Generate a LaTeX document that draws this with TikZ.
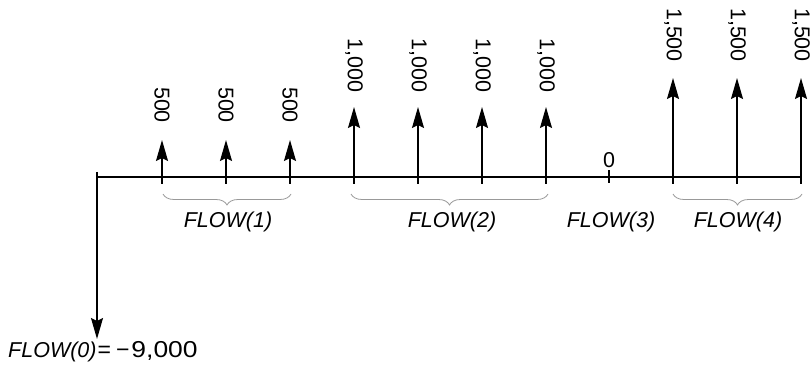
\documentclass[tikz,border=0pt]{standalone}
\usepackage{graphicx}
\usepackage{fontspec}
\setmainfont{Liberation Sans}
\usetikzlibrary{arrows.meta,decorations.pathreplacing}
\begin{document}
\begin{tikzpicture}[x=1pt,y=1pt,
  lbl/.style={font=\fontsize{21.5}{25}\selectfont, inner sep=0pt},
  vlbl/.style={lbl, rotate=-90},
  flowlbl/.style={lbl, font=\fontsize{21.5}{25}\selectfont\itshape},
  flowarrow/.style={line width=1.6pt, -{Stealth[length=21pt,width=12pt,inset=3pt]}},
  axisline/.style={line width=1.6pt},
  bracestyle/.style={draw=black!40, line width=0.8pt, decorate,
    decoration={brace, mirror, amplitude=11pt}}
]
\useasboundingbox (0,0) rectangle (811,375);

% axis
\coordinate (a0) at (97,198);
\coordinate (aend) at (801,198);
\draw[axisline] (a0) -- (aend);

% initial outflow
\coordinate (d0) at (97,203);
\coordinate (d1) at (97,36);
\draw[flowarrow] (d0) -- (d1);
\node[lbl, anchor=west] (f0) at (8,23)
  {\textit{FLOW(0)}\hspace{1pt}{\fontsize{23}{27}\selectfont =\hspace{5pt}−\hspace{2pt}\scalebox{1.15}[1]{9,000}}};

% 500 arrows
\foreach \i/\x in {1/162,2/226,3/290}{
  \coordinate (b\i) at (\x,191);
  \coordinate (t\i) at (\x,235);
  \draw[flowarrow] (b\i) -- (t\i);
  \node[vlbl] (l\i) at (\x,270) {500};
}
% 1,000 arrows
\foreach \i/\x in {4/354,5/418,6/482,7/546}{
  \coordinate (b\i) at (\x,191);
  \coordinate (t\i) at (\x,268);
  \draw[flowarrow] (b\i) -- (t\i);
  \node[vlbl] (l\i) at (\x,309.5) {1,000};
}
% zero tick
\coordinate (b8) at (609,192);
\coordinate (t8) at (609,205);
\draw[line width=1.3pt] (b8) -- (t8);
\node[lbl] (l8) at (609,215) {0};
% 1,500 arrows
\foreach \i/\x in {9/673,10/737,11/801}{
  \coordinate (b\i) at (\x,191);
  \coordinate (t\i) at (\x,297);
  \draw[flowarrow] (b\i) -- (t\i);
  \node[vlbl] (l\i) at (\x,340) {1,500};
}

% braces
\coordinate (br1a) at (163,181); \coordinate (br1b) at (291,181);
\coordinate (br2a) at (351,181); \coordinate (br2b) at (548,181);
\coordinate (br4a) at (673,181); \coordinate (br4b) at (802,181);
\draw[bracestyle] (br1a) -- (br1b);
\draw[bracestyle] (br2a) -- (br2b);
\draw[bracestyle] (br4a) -- (br4b);

% flow labels
\node[flowlbl] (fl1) at (228,153) {FLOW(1)};
\node[flowlbl] (fl2) at (452,153) {FLOW(2)};
\node[flowlbl] (fl3) at (611,153) {FLOW(3)};
\node[flowlbl] (fl4) at (738,153) {FLOW(4)};
\end{tikzpicture}
\end{document}
